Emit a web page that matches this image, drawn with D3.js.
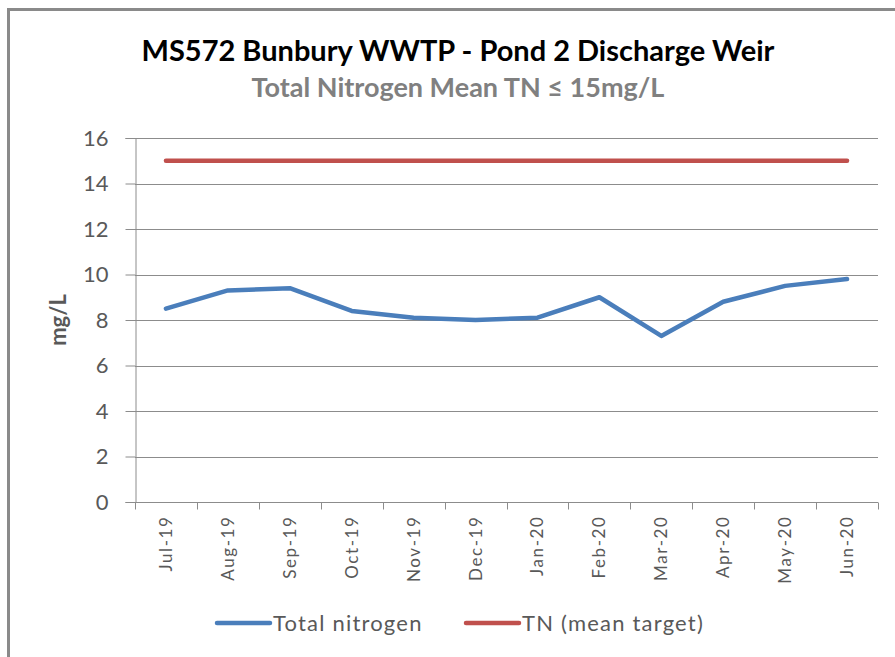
<!DOCTYPE html>
<html>
<head>
<meta charset="utf-8">
<script src="https://cdn.jsdelivr.net/npm/d3@7"></script>
<style>
  body { margin: 0; background: #fff; }
  text { font-family: Lato, "Open Sans", sans-serif; }
</style>
</head>
<body>
<div class="chart"></div>
<script>
// Data
var months = ["Jul-19", "Aug-19", "Sep-19", "Oct-19", "Nov-19", "Dec-19",
              "Jan-20", "Feb-20", "Mar-20", "Apr-20", "May-20", "Jun-20"];
var totalNitrogen = [8.5, 9.3, 9.4, 8.4, 8.1, 8.0, 8.1, 9.0, 7.3, 8.8, 9.5, 9.8];
var meanTarget = [15, 15, 15, 15, 15, 15, 15, 15, 15, 15, 15, 15];
var yTicks = [0, 2, 4, 6, 8, 10, 12, 14, 16];

var svgWidth = 895;
var svgHeight = 657;
var margin = {top: 138, right: 17, bottom: 155, left: 135};
var w = svgWidth - margin.left - margin.right;
var h = svgHeight - margin.top - margin.bottom;

var svg = d3.select(".chart")
  .append("svg")
  .attr("width", svgWidth)
  .attr("height", svgHeight);

// outer frame
svg.append("rect")
  .attr("x", 8.5).attr("y", 9.5)
  .attr("width", 900).attr("height", 700)
  .attr("fill", "none")
  .attr("stroke", "#8a8a8a")
  .attr("stroke-width", 3);

// titles
svg.append("text")
  .attr("x", 458).attr("y", 61)
  .attr("text-anchor", "middle")
  .style("font-size", "29px").style("font-weight", "bold")
  .attr("fill", "#000")
  .text("MS572 Bunbury WWTP - Pond 2 Discharge Weir");

svg.append("text")
  .attr("x", 458).attr("y", 97)
  .attr("text-anchor", "middle")
  .style("font-size", "27px").style("font-weight", "bold")
  .attr("fill", "#808080")
  .text("Total Nitrogen Mean TN \u2264 15mg/L");

var g = svg.append("g")
  .attr("transform", "translate(" + margin.left + "," + margin.top + ")");

var x = d3.scaleBand().domain(months).range([0, w]);
var y = d3.scaleLinear().domain([0, 16]).range([h, 0]);

// gridlines
g.selectAll(".grid")
  .data(yTicks.filter(function(d) { return d > 0; }))
  .enter().append("line")
    .attr("x1", 0).attr("x2", w)
    .attr("y1", function(d) { return Math.round(y(d)) + 0.5; })
    .attr("y2", function(d) { return Math.round(y(d)) + 0.5; })
    .attr("stroke", "#8c8c8c");

// y axis
var yAxis = g.append("g")
  .attr("transform", "translate(0.5,0)")
  .call(d3.axisLeft(y).tickValues(yTicks).tickSize(10).tickPadding(17));
yAxis.select(".domain").attr("stroke", "#8c8c8c");
yAxis.selectAll(".tick line").attr("stroke", "#8c8c8c");
yAxis.selectAll("text")
  .attr("fill", "#595959")
  .style("font-size", "22px")
  .style("font-family", "Lato, sans-serif");

// x axis (ticks on category boundaries)
var xAxis = g.append("g")
  .attr("transform", "translate(0," + (h + 0.5) + ")");
xAxis.append("line")
  .attr("x1", 0).attr("x2", w)
  .attr("stroke", "#8c8c8c");
xAxis.selectAll(".bound")
  .data(months.concat(["end"]))
  .enter().append("line")
    .attr("x1", function(d, i) { return Math.round(i * x.bandwidth()) + 0.5; })
    .attr("x2", function(d, i) { return Math.round(i * x.bandwidth()) + 0.5; })
    .attr("y1", 0).attr("y2", 7)
    .attr("stroke", "#8c8c8c");
xAxis.selectAll(".lbl")
  .data(months)
  .enter().append("text")
    .attr("transform", function(d) {
      return "translate(" + (x(d) + x.bandwidth() / 2 + 6) + ",13) rotate(-90)";
    })
    .attr("text-anchor", "end")
    .attr("fill", "#595959")
    .style("font-size", "17px")
    .style("letter-spacing", "1.6px")
    .text(function(d) { return d; });

// y label
svg.append("text")
  .attr("transform", "translate(66,320) rotate(-90)")
  .attr("text-anchor", "middle")
  .attr("fill", "#595959")
  .style("font-size", "22px").style("font-weight", "bold")
  .text("mg/L");

// lines
var line = d3.line()
  .x(function(d, i) { return x(months[i]) + x.bandwidth() / 2; })
  .y(function(d) { return y(d); });

g.append("path")
  .datum(meanTarget)
  .attr("d", line)
  .attr("fill", "none")
  .attr("stroke", "#c0504d")
  .attr("stroke-width", 4.5)
  .attr("stroke-linecap", "round");

g.append("path")
  .datum(totalNitrogen)
  .attr("d", line)
  .attr("fill", "none")
  .attr("stroke", "#4a7ebb")
  .attr("stroke-width", 4.5)
  .attr("stroke-linecap", "round")
  .attr("stroke-linejoin", "round");

// legend
var legendItems = [
  {name: "Total nitrogen", color: "#4a7ebb", x: 217},
  {name: "TN (mean target)", color: "#c0504d", x: 466}
];
var legend = svg.selectAll(".legend")
  .data(legendItems)
  .enter().append("g")
    .attr("transform", function(d) { return "translate(" + d.x + ",623)"; });
legend.append("line")
  .attr("x1", 0).attr("x2", 53)
  .attr("stroke", function(d) { return d.color; })
  .attr("stroke-width", 4.5)
  .attr("stroke-linecap", "round");
legend.append("text")
  .attr("x", 56).attr("y", 8)
  .attr("fill", "#595959")
  .style("font-size", "22px")
  .style("letter-spacing", "1.2px")
  .text(function(d) { return d.name; });
</script>
</body>
</html>
